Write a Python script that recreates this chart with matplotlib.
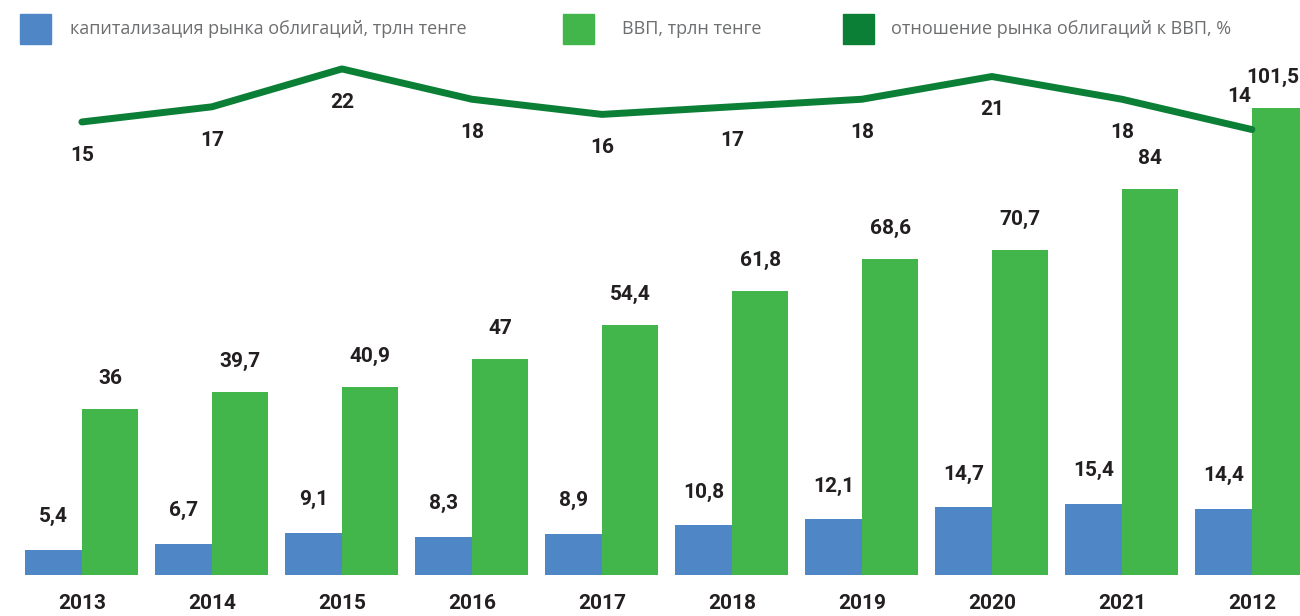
import matplotlib
matplotlib.use("Agg")
import matplotlib.pyplot as plt
import numpy as np
from matplotlib.patches import Rectangle

# данные
years = ["2013", "2014", "2015", "2016", "2017", "2018", "2019", "2020", "2021", "2012"]
bonds = [5.4, 6.7, 9.1, 8.3, 8.9, 10.8, 12.1, 14.7, 15.4, 14.4]
gdp = [36, 39.7, 40.9, 47, 54.4, 61.8, 68.6, 70.7, 84, 101.5]
ratio = [15, 17, 22, 18, 16, 17, 18, 21, 18, 14]
legend_labels = ["капитализация рынка облигаций, трлн тенге",
                 "ВВП, трлн тенге",
                 "отношение рынка облигаций к ВВП, %"]

c_blue = "#4e86c6"
c_green = "#42b64a"
c_dark = "#0b7f36"
c_text = "#231f20"
c_legend = "#6d6e70"

num_font = ["Roboto", "DejaVu Sans"]
leg_font = ["Open Sans", "DejaVu Sans"]


def fmt(v):
    return ("%g" % v).replace(".", ",")


fig = plt.figure(figsize=(13, 6.16), dpi=100)
ax = fig.add_axes([0, 41 / 616, 1, 575 / 616])
x = np.arange(len(years))
w = 0.435
n = len(years)

ax.bar(x - w / 2, bonds, w, color=c_blue)
ax.bar(x + w / 2, gdp, w, color=c_green)
ax.set_xlim(-0.63, 9.37)
ax.set_ylim(0, 125)

for i in range(n):
    ax.annotate(fmt(bonds[i]), (x[i] - w / 2, bonds[i]), xytext=(0, 24),
                textcoords="offset points", ha="center", va="center",
                fontsize=15, fontweight="bold", family=num_font, color=c_text)
    # последняя подпись сдвинута, чтобы не обрезалась краем
    dx = -5 if i == n - 1 else 0
    ax.annotate(fmt(gdp[i]), (x[i] + w / 2, gdp[i]), xytext=(dx, 22),
                textcoords="offset points", ha="center", va="center",
                fontsize=15, fontweight="bold", family=num_font, color=c_text,
                annotation_clip=False)

ax.set_xticks(x)
ax.set_xticklabels(years, fontsize=15, fontweight="bold", family=num_font, color=c_text)
ax.tick_params(axis="x", length=0, pad=14)
ax.set_yticks([])
for s in ax.spines.values():
    s.set_visible(False)

# линия отношения
ax2 = ax.twinx()
ax2.plot(x, ratio, color=c_dark, lw=5, solid_capstyle="round", solid_joinstyle="round")
ax2.set_ylim(-44.8, 31.1)
ax2.set_yticks([])
for s in ax2.spines.values():
    s.set_visible(False)
for i in range(n):
    dy = 24 if i == n - 1 else -24
    dx = -9 if i == n - 1 else 0
    ax2.annotate(str(ratio[i]), (x[i], ratio[i]), xytext=(dx, dy),
                 textcoords="offset points", ha="center", va="center",
                 fontsize=15, fontweight="bold", family=num_font, color=c_text)

# легенда
colors = [c_blue, c_green, c_dark]
sq_x = [20, 563, 843]
txt_x = [70, 622, 891]
W, H = 1300, 616
for i in range(3):
    fig.patches.append(Rectangle((sq_x[i] / W, 1 - 44 / H), 31 / W, 30 / H,
                                 transform=fig.transFigure, color=colors[i]))
    fig.text(txt_x[i] / W, 1 - 29 / H, legend_labels[i], ha="left", va="center",
             fontsize=13, family=leg_font, color=c_legend)

fig.savefig("out.png", dpi=100)
